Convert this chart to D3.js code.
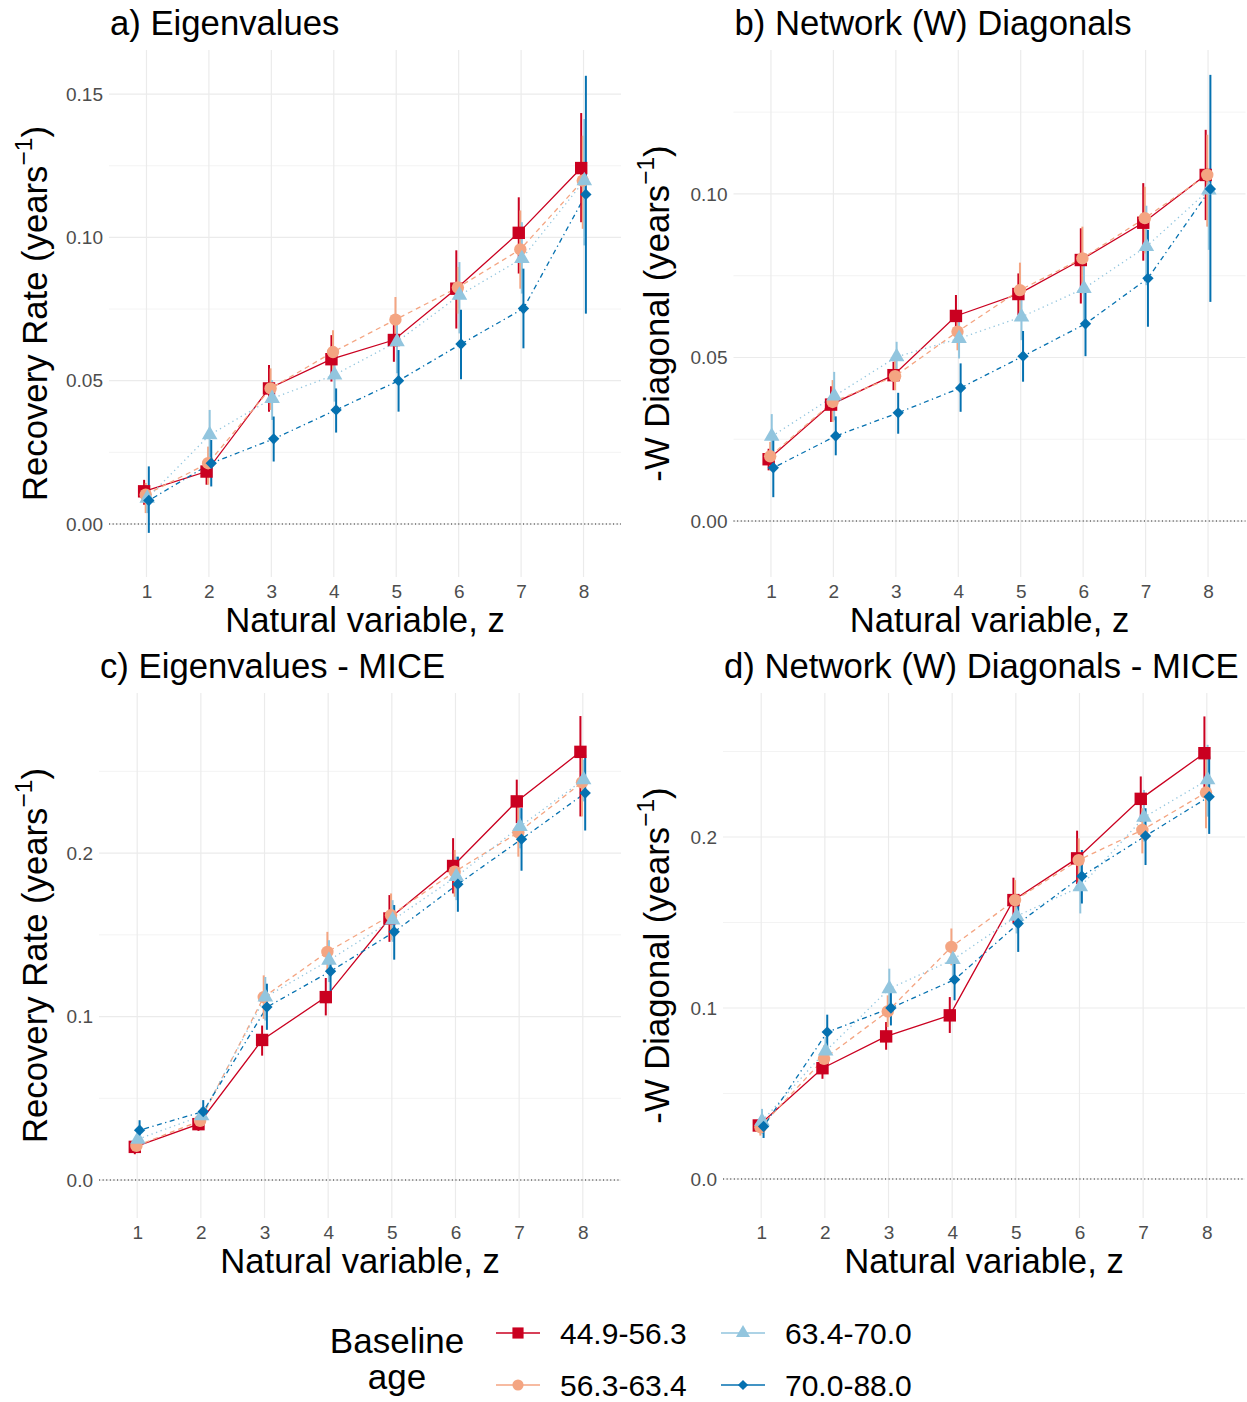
<!DOCTYPE html>
<html>
<head>
<meta charset="utf-8">
<script src="https://cdn.jsdelivr.net/npm/d3@7"></script>
<style>
  body { margin: 0; background: #fff; }
  svg { font-family: "Liberation Sans", Arial, sans-serif; }
</style>
</head>
<body>
<svg id="chart" width="1247" height="1402"></svg>
<script>
// natural variable index and baseline age groups
const zCats = [1, 2, 3, 4, 5, 6, 7, 8];
const ageGroups = ["44.9-56.3", "56.3-63.4", "63.4-70.0", "70.0-88.0"];

// a) Eigenvalues (rows follow ageGroups)
const eigMean = [
  [0.0114, 0.0183, 0.0473, 0.0575, 0.0642, 0.0821, 0.1016, 0.1242],
  [0.0102, 0.0212, 0.0473, 0.0600, 0.0713, 0.0825, 0.0958, 0.1198],
  [0.0090, 0.0311, 0.0438, 0.0520, 0.0636, 0.0798, 0.0926, 0.1198],
  [0.0082, 0.0212, 0.0297, 0.0398, 0.0500, 0.0628, 0.0752, 0.1150]
];
const eigLo = [
  [0.0067, 0.0137, 0.0392, 0.0497, 0.0566, 0.0682, 0.0874, 0.1053],
  [0.0038, 0.0137, 0.0398, 0.0514, 0.0618, 0.0734, 0.0821, 0.1030],
  [0.0038, 0.0224, 0.0363, 0.0427, 0.0526, 0.0665, 0.0804, 0.0972],
  [-0.0031, 0.0131, 0.0218, 0.0319, 0.0392, 0.0505, 0.0613, 0.0734]
];
const eigHi = [
  [0.0154, 0.0218, 0.0555, 0.0659, 0.0700, 0.0955, 0.1140, 0.1434],
  [0.0143, 0.0270, 0.0543, 0.0676, 0.0792, 0.0897, 0.1094, 0.1355],
  [0.0131, 0.0398, 0.0502, 0.0595, 0.0723, 0.0914, 0.1053, 0.1413],
  [0.0201, 0.0293, 0.0375, 0.0473, 0.0607, 0.0748, 0.0891, 0.1564]
];

// b) Network (W) diagonals
const diagMean = [
  [0.0189, 0.0356, 0.0446, 0.0627, 0.0694, 0.0798, 0.0912, 0.1058],
  [0.0198, 0.0364, 0.0443, 0.0579, 0.0706, 0.0803, 0.0926, 0.1058],
  [0.0259, 0.0382, 0.0502, 0.0558, 0.0624, 0.0711, 0.0839, 0.1012],
  [0.0163, 0.0260, 0.0331, 0.0407, 0.0504, 0.0603, 0.0742, 0.1015]
];
const diagLo = [
  [0.0155, 0.0303, 0.0400, 0.0558, 0.0630, 0.0665, 0.0796, 0.0920],
  [0.0155, 0.0303, 0.0400, 0.0522, 0.0624, 0.0696, 0.0818, 0.0900],
  [0.0191, 0.0308, 0.0451, 0.0497, 0.0553, 0.0614, 0.0721, 0.0829],
  [0.0073, 0.0201, 0.0267, 0.0334, 0.0426, 0.0504, 0.0594, 0.0670]
];
const diagHi = [
  [0.0221, 0.0412, 0.0487, 0.0691, 0.0757, 0.0895, 0.1033, 0.1196],
  [0.0242, 0.0431, 0.0492, 0.0640, 0.0790, 0.0900, 0.1022, 0.1181],
  [0.0327, 0.0456, 0.0548, 0.0624, 0.0696, 0.0788, 0.0964, 0.1073],
  [0.0252, 0.0320, 0.0392, 0.0482, 0.0581, 0.0706, 0.0890, 0.1364]
];

// c) Eigenvalues - MICE
const eigMiceMean = [
  [0.0203, 0.0342, 0.0857, 0.1119, 0.1600, 0.1921, 0.2316, 0.2619],
  [0.0209, 0.0362, 0.1119, 0.1395, 0.1620, 0.1886, 0.2126, 0.2432],
  [0.0250, 0.0393, 0.1119, 0.1344, 0.1590, 0.1856, 0.2162, 0.2449],
  [0.0305, 0.0419, 0.1058, 0.1277, 0.1518, 0.1810, 0.2085, 0.2367]
];
const eigMiceLo = [
  [0.0158, 0.0301, 0.0761, 0.1007, 0.1457, 0.1753, 0.2183, 0.2224],
  [0.0168, 0.0311, 0.0986, 0.1273, 0.1467, 0.1733, 0.1978, 0.2224],
  [0.0209, 0.0342, 0.0976, 0.1211, 0.1457, 0.1712, 0.2029, 0.2316],
  [0.0243, 0.0352, 0.0919, 0.1150, 0.1348, 0.1641, 0.1892, 0.2138]
];
const eigMiceHi = [
  [0.0239, 0.0383, 0.0945, 0.1236, 0.1743, 0.2091, 0.2449, 0.2838],
  [0.0250, 0.0403, 0.1252, 0.1518, 0.1753, 0.2019, 0.2285, 0.2592],
  [0.0291, 0.0444, 0.1242, 0.1467, 0.1712, 0.1978, 0.2275, 0.2572],
  [0.0366, 0.0489, 0.1201, 0.1405, 0.1682, 0.1978, 0.2275, 0.2602]
];

// d) Network (W) diagonals - MICE
const diagMiceMean = [
  [0.0313, 0.0648, 0.0834, 0.0957, 0.1631, 0.1875, 0.2223, 0.2490],
  [0.0303, 0.0703, 0.0980, 0.1357, 0.1631, 0.1865, 0.2041, 0.2260],
  [0.0338, 0.0748, 0.1113, 0.1283, 0.1537, 0.1709, 0.2115, 0.2334],
  [0.0307, 0.0859, 0.1000, 0.1166, 0.1494, 0.1771, 0.2006, 0.2236]
];
const diagMiceLo = [
  [0.0279, 0.0586, 0.0756, 0.0854, 0.1494, 0.1725, 0.2090, 0.2275],
  [0.0254, 0.0625, 0.0889, 0.1250, 0.1514, 0.1729, 0.1904, 0.2051],
  [0.0264, 0.0654, 0.0996, 0.1182, 0.1436, 0.1553, 0.1973, 0.2119],
  [0.0240, 0.0752, 0.0898, 0.1045, 0.1328, 0.1611, 0.1836, 0.2018]
];
const diagMiceHi = [
  [0.0346, 0.0723, 0.0918, 0.1064, 0.1762, 0.2037, 0.2354, 0.2705],
  [0.0352, 0.0781, 0.1074, 0.1465, 0.1748, 0.1992, 0.2168, 0.2471],
  [0.0410, 0.0830, 0.1230, 0.1387, 0.1650, 0.1836, 0.2275, 0.2539],
  [0.0361, 0.0961, 0.1094, 0.1283, 0.1650, 0.1924, 0.2168, 0.2471]
];

// tick values
const ticksSmall = [0, 0.05, 0.10, 0.15];
const ticksLarge = [0, 0.1, 0.2];

const colors = ["#CA0020", "#F4A582", "#92C5DE", "#0571B0"];
const dashes = [null, "5,4", "1.3,3.5", "1.3,3.5,5,3.5"];
const dodge = [-0.0375, -0.0125, 0.0125, 0.0375];
const bigFont = 34.7;

const svg = d3.select("#chart");

function marker(sel, i, scale = 1) {
  if (i === 0) {
    sel.append("rect").attr("x", -6.2 * scale).attr("y", -6.2 * scale)
      .attr("width", 12.4 * scale).attr("height", 12.4 * scale);
  } else if (i === 1) {
    sel.append("circle").attr("r", 6.2 * scale);
  } else if (i === 2) {
    sel.append("path").attr("d", d3.symbol(d3.symbolTriangle, 105 * scale * scale)());
  } else {
    sel.append("path").attr("d", d3.symbol(d3.symbolSquare, 64 * scale * scale)())
      .attr("transform", "rotate(45)");
  }
  sel.attr("fill", colors[i]);
}

const panels = [
  {title: "a) Eigenvalues", ylab: "Recovery Rate (years", mean: eigMean, lo: eigLo, hi: eigHi,
   domain: [-0.0185, 0.1654], ticks: ticksSmall, fmt: ".2f", l: 109, r: 621, t: 50, b: 577, titleX: 47},
  {title: "b) Network (W) Diagonals", ylab: "-W Diagonal (years", mean: diagMean, lo: diagLo, hi: diagHi,
   domain: [-0.0171, 0.1440], ticks: [0, 0.05, 0.10], fmt: ".2f", l: 733.5, r: 1245.5, t: 50, b: 577, titleX: 669},
  {title: "c) Eigenvalues - MICE", ylab: "Recovery Rate (years", mean: eigMiceMean, lo: eigMiceLo, hi: eigMiceHi,
   domain: [-0.0232, 0.2979], ticks: ticksLarge, fmt: ".1f", l: 99, r: 621, t: 693, b: 1218, titleX: 47},
  {title: "d) Network (W) Diagonals - MICE", ylab: "-W Diagonal (years", mean: diagMiceMean, lo: diagMiceLo, hi: diagMiceHi,
   domain: [-0.0228, 0.2842], ticks: ticksLarge, fmt: ".1f", l: 723, r: 1245, t: 693, b: 1218, titleX: 669}
];

panels.forEach(p => {
  const g = svg.append("g");
  const x = d3.scalePoint().domain(zCats).range([p.l, p.r]).padding(0.6);
  const y = d3.scaleLinear().domain(p.domain).range([p.b, p.t]);
  const step = x.step();
  const tStep = p.ticks[1] - p.ticks[0];
  const minor = d3.range(p.ticks[0] - tStep / 2, p.domain[1], tStep)
    .filter(v => v > p.domain[0] && v < p.domain[1]);

  // grid
  g.selectAll(".minor").data(minor).join("line")
    .attr("x1", p.l).attr("x2", p.r).attr("y1", d => y(d)).attr("y2", d => y(d))
    .attr("stroke", "#EBEBEB").attr("stroke-width", 0.6);
  g.selectAll(".major").data(p.ticks).join("line")
    .attr("x1", p.l).attr("x2", p.r).attr("y1", d => y(d)).attr("y2", d => y(d))
    .attr("stroke", "#EBEBEB").attr("stroke-width", 1.2);
  g.selectAll(".vgrid").data(zCats).join("line")
    .attr("x1", d => x(d)).attr("x2", d => x(d)).attr("y1", p.t).attr("y2", p.b)
    .attr("stroke", "#EBEBEB").attr("stroke-width", 1.2);

  // zero reference
  g.append("line").attr("x1", p.l).attr("x2", p.r).attr("y1", y(0)).attr("y2", y(0))
    .attr("stroke", "#222").attr("stroke-width", 1.1).attr("stroke-dasharray", "1.1,2.5");

  // axes (text only, like theme_minimal)
  const yAxis = g.append("g").attr("transform", `translate(${p.l},0)`)
    .call(d3.axisLeft(y).tickValues(p.ticks).tickFormat(d3.format(p.fmt)).tickSize(0).tickPadding(6));
  const xAxis = g.append("g").attr("transform", `translate(0,${p.b})`)
    .call(d3.axisBottom(x).tickSize(0).tickPadding(8));
  [yAxis, xAxis].forEach(a => {
    a.select(".domain").remove();
    a.selectAll("text").attr("fill", "#4D4D4D").attr("font-size", 19)
      .attr("font-family", "Liberation Sans, Arial, sans-serif");
  });

  const px = (i, j) => x(zCats[j]) + dodge[i] * step;

  // lines
  ageGroups.forEach((grp, i) => {
    const line = d3.line().x((d, j) => px(i, j)).y(d => y(d));
    g.append("path").datum(p.mean[i]).attr("d", line)
      .attr("fill", "none").attr("stroke", colors[i]).attr("stroke-width", 1.3)
      .attr("stroke-dasharray", dashes[i]);
  });
  // ranges
  ageGroups.forEach((grp, i) => {
    g.selectAll(null).data(zCats).join("line")
      .attr("x1", (d, j) => px(i, j)).attr("x2", (d, j) => px(i, j))
      .attr("y1", (d, j) => y(p.lo[i][j])).attr("y2", (d, j) => y(p.hi[i][j]))
      .attr("stroke", colors[i]).attr("stroke-width", 2);
  });
  // points
  ageGroups.forEach((grp, i) => {
    p.mean[i].forEach((v, j) => {
      const m = g.append("g").attr("transform", `translate(${px(i, j)},${y(v)})`);
      marker(m, i);
    });
  });

  // titles
  g.append("text").attr("x", p.l + 1).attr("y", p.t - 15).attr("font-size", bigFont)
    .attr("fill", "#000").text(p.title);
  g.append("text").attr("x", (p.l + p.r) / 2).attr("y", p.b + 55).attr("text-anchor", "middle")
    .attr("font-size", bigFont).attr("fill", "#000").text("Natural variable, z");
  const yl = g.append("text")
    .attr("transform", `translate(${p.titleX},${(p.t + p.b) / 2}) rotate(-90)`)
    .attr("text-anchor", "middle").attr("font-size", bigFont).attr("fill", "#000");
  yl.append("tspan").text(p.ylab);
  yl.append("tspan").attr("dy", -15).attr("font-size", 24.5).text("\u22121");
  yl.append("tspan").attr("dy", 15).text(")");
});

// legend
const lg = svg.append("g");
lg.append("text").attr("x", 397).attr("y", 1353).attr("text-anchor", "middle")
  .attr("font-size", 35).text("Baseline");
lg.append("text").attr("x", 397).attr("y", 1389).attr("text-anchor", "middle")
  .attr("font-size", 35).text("age");
const keyPos = [[496, 1333], [496, 1385], [721, 1333], [721, 1385]];
ageGroups.forEach((grp, i) => {
  const [kx, ky] = keyPos[i];
  const k = lg.append("g").attr("transform", `translate(${kx},${ky})`);
  k.append("line").attr("x1", 0).attr("x2", 44).attr("stroke", colors[i]).attr("stroke-width", 1.6);
  const m = k.append("g").attr("transform", "translate(22,0)");
  marker(m, i, 0.9);
  k.append("text").attr("x", 64).attr("y", 10.5).attr("font-size", 30).attr("fill", "#000").text(grp);
});
</script>
</body>
</html>
